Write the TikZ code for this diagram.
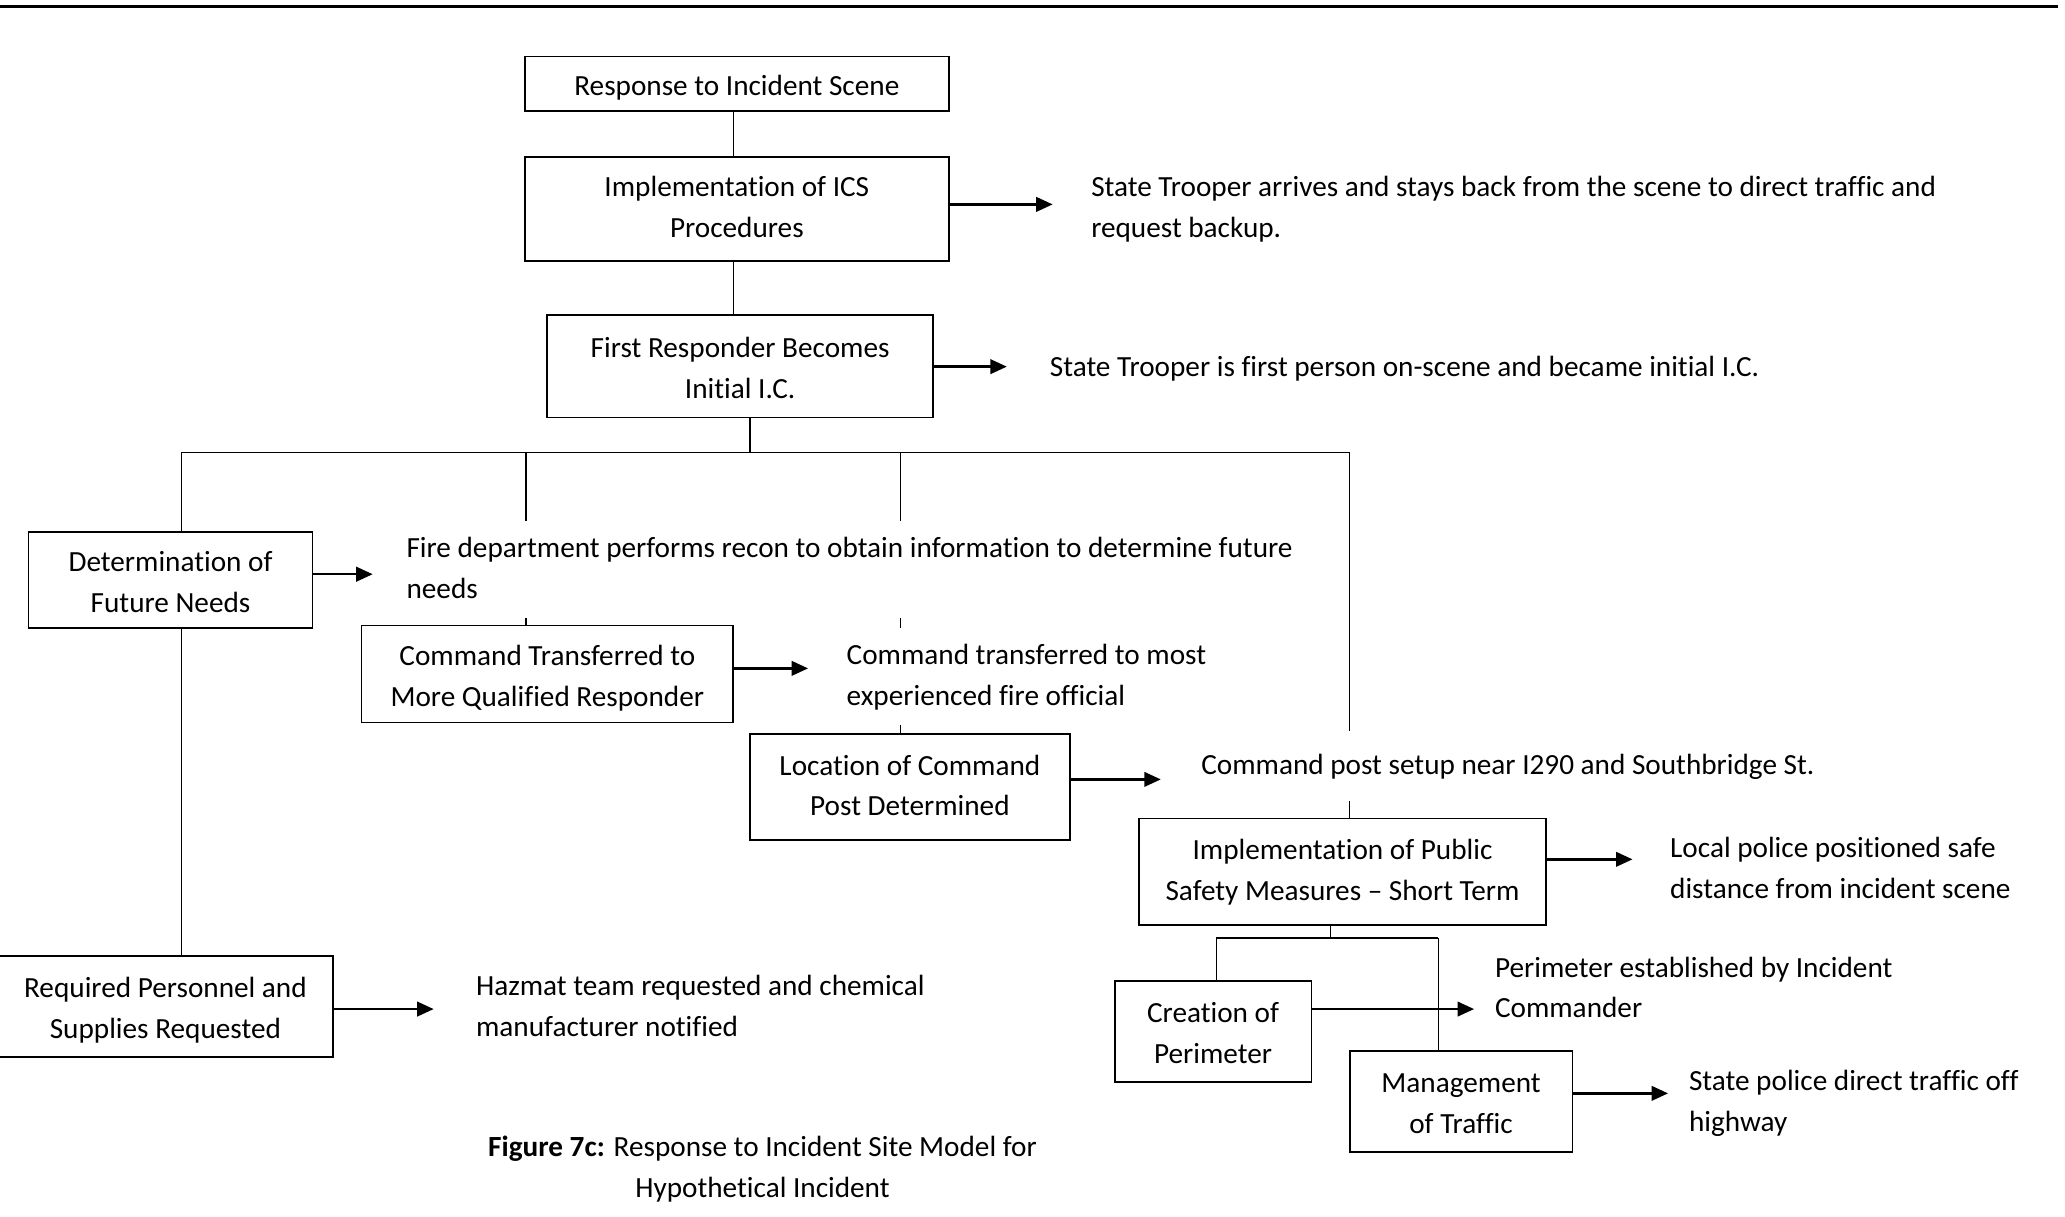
\documentclass[tikz,border=0pt]{standalone}
\usepackage{fontspec}
\setmainfont{Carlito}[Ligatures={TeX,NoCommon}]
\usetikzlibrary{arrows.meta}
\pgfdeclarelayer{background}
\pgfsetlayers{background,main}
% taller first-line strut: sets the text of a box a little lower
\newcommand{\lowstrut}{\rule{0pt}{27pt}}

\begin{document}
\begin{tikzpicture}[x=1pt,y=-1pt,
  every node/.style={font=\fontsize{22.2}{31}\selectfont},
  stagebox/.style={draw, line width=1.3pt, inner sep=0pt, align=center},
  note/.style={anchor=west, align=left, inner xsep=0pt, inner ysep=6pt, fill=white},
  link/.style={line width=0.8pt},
  bus/.style={line width=1.3pt},
  flow/.style={line width=1.8pt, -{Triangle[length=12.5pt,width=11pt]}},
]
\useasboundingbox (0,0) rectangle (1568,924);

% rule across the top of the page
\draw[line width=2.2pt] (0,5) -- (1563,5);

% stages of the response
\node[stagebox, minimum width=322pt, minimum height=41.3pt,
      text height=24.7pt, text depth=6.3pt] (A) at (559.5,63.6)
  {Response to Incident Scene};
\node[stagebox, minimum width=322pt, minimum height=79pt] (B) at (559.5,158.5)
  {\strut Implementation of ICS\\\strut Procedures};
\node[stagebox, minimum width=293pt, minimum height=77.6pt] (C) at (562,278.2)
  {\strut\lowstrut First Responder Becomes\\\strut Initial I.C.};
\node[stagebox, minimum width=215.6pt, minimum height=72.8pt] (D) at (129.5,440.6)
  {\strut\lowstrut Determination of\\\strut Future Needs};
\node[stagebox, minimum width=282pt, minimum height=73.5pt] (E) at (415.6,511.8)
  {\strut\lowstrut Command Transferred to\\\strut More Qualified Responder};
\node[stagebox, minimum width=242.7pt, minimum height=80.4pt] (G) at (690.9,597.8)
  {\strut Location of Command\\\strut Post Determined};
\node[stagebox, minimum width=308.8pt, minimum height=81pt] (H) at (1019.4,661.9)
  {\strut Implementation of Public\\\strut Safety Measures -- Short Term};
\node[stagebox, minimum width=254pt, minimum height=76.4pt] (F) at (125.6,764.2)
  {\strut\lowstrut Required Personnel and\\\strut Supplies Requested};
\node[stagebox, minimum width=149.4pt, minimum height=76.3pt] (I) at (921.1,783.2)
  {\strut\lowstrut Creation of\\\strut Perimeter};
\node[stagebox, minimum width=169.1pt, minimum height=76.5pt] (J) at (1109.4,836.3)
  {\strut\lowstrut Management\\\strut of Traffic};

% outcomes of each stage
\node[note] (t1) at (828.4,158.8)
  {\strut State Trooper arrives and stays back from the scene to direct traffic and\\\strut request backup.};
\node[note] (t2) at (797,279.7)
  {\strut State Trooper is first person on-scene and became initial I.C.};
\node[note] (t3) at (308.5,432.5)
  {\strut Fire department performs recon to obtain information to determine future\\\strut needs};
\node[note] (t4) at (642.7,513.8)
  {\strut Command transferred to most\\\strut experienced fire official};
\node[note, inner ysep=11pt] (t5) at (912,581.7)
  {\strut Command post setup near I290 and Southbridge St.};
\node[note] (t6) at (1268,660.3)
  {\strut Local police positioned safe\\\strut distance from incident scene};
\node[note] (t7) at (361.3,765.2)
  {\strut Hazmat team requested and chemical\\\strut manufacturer notified};
\node[note] (t8) at (1135,751.2)
  {\strut Perimeter established by Incident\\\strut Commander};
\node[note] (t9) at (1282.3,837.2)
  {\strut State police direct traffic off\\\strut highway};

% caption
\node[align=center] (cap) at (579,887.8)
  {\strut\textbf{Figure 7c:} Response to Incident Site Model for\\\strut Hypothetical Incident};

% junction points of the connector tree
\coordinate (sp) at (557,0);
\coordinate (bC) at (569.5,343.5);
\coordinate (bL) at (137.5,343.5);
\coordinate (b2) at (399.4,343.5);
\coordinate (b3) at (684,343.5);
\coordinate (bR) at (1024.5,343.5);
\coordinate (hC) at (1010,712.5);
\coordinate (hL) at (923.5,712.5);
\coordinate (hR) at (1092,712.5);

% tree connectors, kept under the text frames
\begin{pgfonlayer}{background}
\draw[link] (sp |- A.south) -- (sp |- B.north);
\draw[link] (sp |- B.south) -- (sp |- C.north);
\draw[link] (bC |- C.south) -- (bC);
\draw[bus] (bL) -- (bR);
\draw[link] (bL) -- (bL |- D.north);
\draw[link] (b2) -- (b2 |- E.north);
\draw[link] (b3) -- (b3 |- G.north);
\draw[link] (bR) -- (bR |- H.north);
\draw[link] (bL |- D.south) -- (bL |- F.north);
\draw[link] (hC |- H.south) -- (hC);
\draw[bus] (hL) -- (hR);
\draw[link] (hL) -- (hL |- I.north);
\draw[link] (hR) -- (hR |- J.north);
\end{pgfonlayer}

% arrow tips pointing at the outcomes
\coordinate (tB) at (799.3,155.2);
\coordinate (tC) at (764.5,278.4);
\coordinate (tD) at (283,436);
\coordinate (tE) at (613.6,507.5);
\coordinate (tG) at (881.4,591.8);
\coordinate (tH) at (1239.6,652.5);
\coordinate (tF) at (329.3,766.2);
\coordinate (tI) at (1119.3,766.2);
\coordinate (tJ) at (1266.6,830.2);

\draw[flow] (B.east |- tB) -- (tB);
\draw[flow] (C.east |- tC) -- (tC);
\draw[flow] (D.east |- tD) -- (tD);
\draw[flow] (E.east |- tE) -- (tE);
\draw[flow] (G.east |- tG) -- (tG);
\draw[flow] (H.east |- tH) -- (tH);
\draw[flow] (F.east |- tF) -- (tF);
\draw[flow] (I.east |- tI) -- (tI);
\draw[flow] (J.east |- tJ) -- (tJ);
\end{tikzpicture}
\end{document}
